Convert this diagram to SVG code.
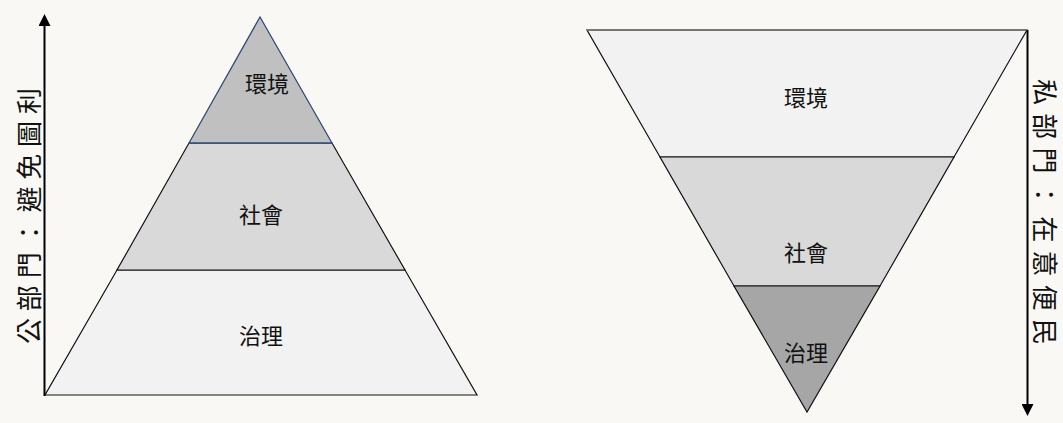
<svg xmlns="http://www.w3.org/2000/svg" width="1063" height="423" viewBox="0 0 1063 423">
<style>
.lbl{font-family:"Noto Sans CJK TC","Noto Sans CJK SC",sans-serif;font-size:22px;fill:#111;text-anchor:middle;dominant-baseline:central}
.ax{font-family:"Noto Sans CJK TC","Noto Sans CJK SC",sans-serif;font-size:26px;fill:#111;text-anchor:middle;dominant-baseline:central}
</style>
<defs>
<marker id="ah" viewBox="0 0 12 12" refX="6" refY="6" markerWidth="12" markerHeight="12" markerUnits="userSpaceOnUse" orient="auto">
<path d="M0,0 L12,6 L0,12 Z" fill="#000"/>
</marker>
</defs>
<rect width="1063" height="423" fill="#f9f8f4"/>
<g id="pyramid-left">
<g id="left-governance"><polygon points="117,270 405,270 477,395 45,395" fill="#f2f2f2" stroke="#111" stroke-width="1.2"/><text class="lbl" x="261" y="334">治理</text></g>
<g id="left-society"><polygon points="189,143 332,143 405,270 117,270" fill="#d9d9d9" stroke="#111" stroke-width="1.2"/><text class="lbl" x="261" y="213">社會</text></g>
<g id="left-environment"><polygon points="260,17 332,143 189,143" fill="#c0c0c0" stroke="#2f4a7a" stroke-width="1.3"/><text class="lbl" x="267" y="82">環境</text></g>
</g>
<g id="pyramid-right">
<g id="right-environment"><polygon points="587,30 1027,30 954,157 660,157" fill="#f2f2f2" stroke="#111" stroke-width="1.2"/><line x1="587" y1="30" x2="1027" y2="30" stroke="#777" stroke-width="2"/><text class="lbl" x="806" y="96">環境</text></g>
<g id="right-society"><polygon points="660,157 954,157 880,286 734,286" fill="#d9d9d9" stroke="#111" stroke-width="1.2"/><text class="lbl" x="806" y="251">社會</text></g>
<g id="right-governance"><polygon points="734,286 880,286 807,412" fill="#a6a6a6" stroke="#111" stroke-width="1.2"/><text class="lbl" x="806" y="351">治理</text></g>
</g>
<g id="connectors">
<line x1="44.5" y1="396" x2="44.5" y2="20" stroke="#000" stroke-width="2" marker-end="url(#ah)"/>
<line x1="1027.5" y1="30" x2="1027.5" y2="410" stroke="#000" stroke-width="2" marker-end="url(#ah)"/>
</g>
<g id="axis-left-label"><text class="ax" transform="translate(27,216) rotate(-90)" textLength="256" lengthAdjust="spacing">公部門：避免圖利</text></g>
<g id="axis-right-label"><text class="ax" transform="translate(1046,212) rotate(90)" textLength="266" lengthAdjust="spacing">私部門：在意便民</text></g>
</svg>
